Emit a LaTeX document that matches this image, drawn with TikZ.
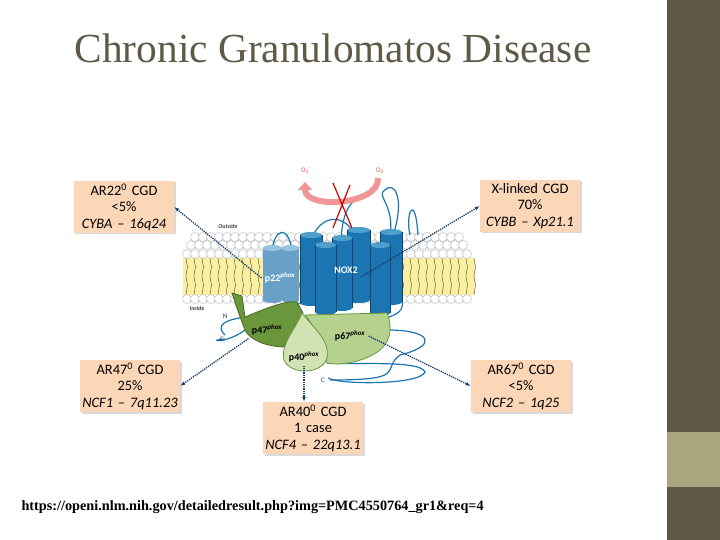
\documentclass[tikz,border=0pt]{standalone}
\usepackage{fontspec}
\setmainfont{Carlito}
\newfontfamily\slideserif{Liberation Serif}
\usetikzlibrary{shapes,arrows.meta,positioning,calc,shadows}
\definecolor{slidegray}{RGB}{95,90,70}
\definecolor{slidetan}{RGB}{168,165,127}
\definecolor{boxpeach}{RGB}{251,214,183}
\definecolor{noxblue}{RGB}{27,117,176}
\definecolor{noxtop}{RGB}{80,160,205}
\definecolor{phoxblue}{RGB}{105,160,200}
\definecolor{phoxtop}{RGB}{150,195,225}
\definecolor{lipidyellow}{RGB}{250,240,160}
\definecolor{darkgreen}{RGB}{106,150,60}
\definecolor{midgreen}{RGB}{182,208,142}
\definecolor{lightgreen}{RGB}{210,226,180}
\definecolor{arrowblue}{RGB}{20,60,110}
\definecolor{pinkarc}{RGB}{240,150,150}

\newcommand{\cyl}[6]{% x1, x2, ytop, ybottom, colour, top colour
  \fill[#5] (#1,#3) rectangle (#2,#4);
  \fill[#5] ({(#1+#2)/2},#4) ellipse ({(#2-#1)/2} and 3);
  \fill[#6] ({(#1+#2)/2},#3) ellipse ({(#2-#1)/2} and 3);
}

\begin{document}
\begin{tikzpicture}[x=1bp, y=-1bp,
    gene/.style={rectangle, fill=boxpeach, text width=98bp, align=center, minimum height=52bp, inner sep=1bp, font=\fontsize{14.5}{16.5}\selectfont, drop shadow={shadow xshift=1.5bp, shadow yshift=-1.5bp, opacity=0.3}},
    link/.style={-{Latex[length=5bp]}, densely dotted, line width=1.3pt, arrowblue},
    loop/.style={line width=1.2pt, noxblue},
    lipid/.style={fill=white, draw=black!35, line width=0.3pt},
    protein/.style={font=\bfseries\fontsize{10}{11}\selectfont}]
    \useasboundingbox (0,0) rectangle (720,540);

    % slide background
    \fill[slidegray] (667,0) rectangle (720,540);
    \fill[slidetan] (667,432) rectangle (720,487);
    \node[text=slidegray, font=\slideserif\fontsize{41.5}{45}\selectfont] (title) at (333,48) {Chronic Granulomatos Disease};

    % membrane
    \fill[lipidyellow] (183,258) rectangle (475,295);
    \foreach \x in {186,194,...,474} {
        \draw[black!70, line width=0.4pt] (\x,258) sin (\x+2,267) cos (\x,276) sin (\x+2,285) cos (\x,295);
    }
    \foreach \x in {187,195,...,474} {
        \filldraw[lipid] (\x,254) circle (4.5);
        \filldraw[lipid] (\x,299) circle (4.5);
    }
    \foreach \x in {191,199,...,470} {
        \filldraw[lipid] (\x,245) circle (4.5);
    }
    \foreach \x in {195,203,...,466} {
        \filldraw[lipid] (\x,237) circle (4.5);
    }
    \node[font=\bfseries\itshape\fontsize{6}{7}\selectfont, text=black!75] (outside) at (228,226) {Outside};
    \node[font=\bfseries\itshape\fontsize{6}{7}\selectfont, text=black!75] (inside) at (197,308) {Inside};

    % loops
    \draw[loop] (292,250) .. controls (288,225) and (275,228) .. (272,250);
    \draw[loop] (311,240) .. controls (320,215) and (345,210) .. (358,240);
    \draw[loop] (341,240) .. controls (342,215) and (350,200) .. (358,200);
    \draw[loop] (390,235) .. controls (395,205) and (375,195) .. (385,190) .. controls (395,180) and (405,200) .. (393,235);
    \draw[loop] (410,235) .. controls (405,215) and (415,190) .. (418,235);
    \draw[loop] (245,317) .. controls (225,320) and (215,325) .. (225,335);
    \draw[loop] (245,330) .. controls (225,345) and (205,340) .. (225,339);
    \draw[loop] (300,303) .. controls (285,315) and (270,310) .. (245,318);
    \draw[loop] (388,330) .. controls (430,330) and (440,345) .. (400,355) .. controls (380,370) and (410,380) .. (330,380);
    \draw[loop] (327,363) .. controls (360,365) and (420,360) .. (425,372) .. controls (420,385) and (340,385) .. (328,378);
    \draw[loop] (402,300) .. controls (405,315) and (390,315) .. (388,318);

    % p22phox and NOX2
    \cyl{263}{282}{248}{300}{phoxblue}{phoxtop}
    \cyl{282}{299}{248}{300}{phoxblue}{phoxtop}
    \foreach \xa/\xb/\ya/\yb in {347/370/230/300, 380/402/232/302, 332/352/238/308, 300/322/235/303, 315/336/245/312, 370/390/245/313} {
        \cyl{\xa}{\xb}{\ya}{\yb}{noxblue}{noxtop}
        \draw[noxblue!60!black, line width=0.3pt] (\xa,\ya) -- (\xa,\yb) (\xb,\ya) -- (\xb,\yb);
    }
    \node[protein, text=white] (p22) at (280,278) {p22\textsuperscript{\itshape phox}};
    \node[protein, text=white] (nox2) at (346,270) {NOX2};

    % cytosolic subunits
    \filldraw[fill=darkgreen, draw=darkgreen!70!black, thick] (232,293) -- (242,296) -- (245,317) .. controls (262,310) and (285,300) .. (297,302) -- (303,313) .. controls (295,325) and (290,340) .. (283,347) .. controls (265,346) and (250,340) .. (245,330) .. controls (242,322) and (238,312) .. cycle;
    \filldraw[fill=midgreen, draw=darkgreen, thick] (305,315) -- (387,313) .. controls (392,325) and (392,340) .. (380,350) .. controls (365,362) and (340,366) .. (327,363) .. controls (322,350) and (318,330) .. cycle;
    \filldraw[fill=lightgreen, draw=darkgreen, thick] (302,313) .. controls (315,330) and (330,340) .. (327,358) .. controls (322,375) and (290,375) .. (284,360) .. controls (280,345) and (295,330) .. cycle;
    \node[protein] (p47) at (267,330) {p47\textsuperscript{\itshape phox}};
    \node[protein] (p67) at (350,336) {p67\textsuperscript{\itshape phox}};
    \node[protein] (p40) at (304,357) {p40\textsuperscript{\itshape phox}};
    \node[font=\fontsize{7}{8}\selectfont, text=arrowblue] (nend) at (225,316) {N};
    \node[font=\fontsize{7}{8}\selectfont, text=arrowblue] (cend) at (222,339) {C};
    \node[font=\fontsize{7}{8}\selectfont, text=arrowblue] (cend2) at (323,380) {C};

    % superoxide
    \draw[pinkarc, line width=6pt, -{Triangle[length=8bp, width=14bp]}] (378,178) .. controls (380,205) and (305,210) .. (305,182);
    \node[font=\fontsize{7}{8}\selectfont, text=red!70] (o2m) at (306,171) {O\textsubscript{2}\textsuperscript{-}};
    \node[font=\fontsize{7}{8}\selectfont, text=red!70] (o2) at (380,171) {O\textsubscript{2}};
    \draw[red!80!black, line width=1.2pt] (333,183) -- (352,228) (350,185) -- (333,228);

    % gene boxes
    \node[gene] (cyba) at (124,207) {AR22\textsuperscript{0} CGD\\<5\%\\\textit{CYBA – 16q24}};
    \node[gene] (cybb) at (530,206) {X-linked CGD\\70\%\\\textit{CYBB – Xp21.1}};
    \node[gene] (ncf1) at (130,386) {AR47\textsuperscript{0} CGD\\25\%\\\textit{NCF1 – 7q11.23}};
    \node[gene] (ncf2) at (521,386) {AR67\textsuperscript{0} CGD\\<5\%\\\textit{NCF2 – 1q25}};
    \node[gene] (ncf4) at (313,428) {AR40\textsuperscript{0} CGD\\1 case\\\textit{NCF4 – 22q13.1}};

    % dotted links
    \draw[link] (p22.west) -- (cyba.east);
    \draw[link] (nox2.south east) -- (cybb.west);
    \draw[link] (p47.south west) -- (ncf1.east);
    \draw[link] (p67.east) -- (ncf2.west);
    \draw[link] (p40.south) -- (p40.south |- ncf4.north);

    % source
    \node[anchor=west, font=\slideserif\bfseries\fontsize{14.3}{16}\selectfont] (src) at (18,507) {https://openi.nlm.nih.gov/detailedresult.php?img=PMC4550764\_gr1\&req=4};
\end{tikzpicture}
\end{document}
